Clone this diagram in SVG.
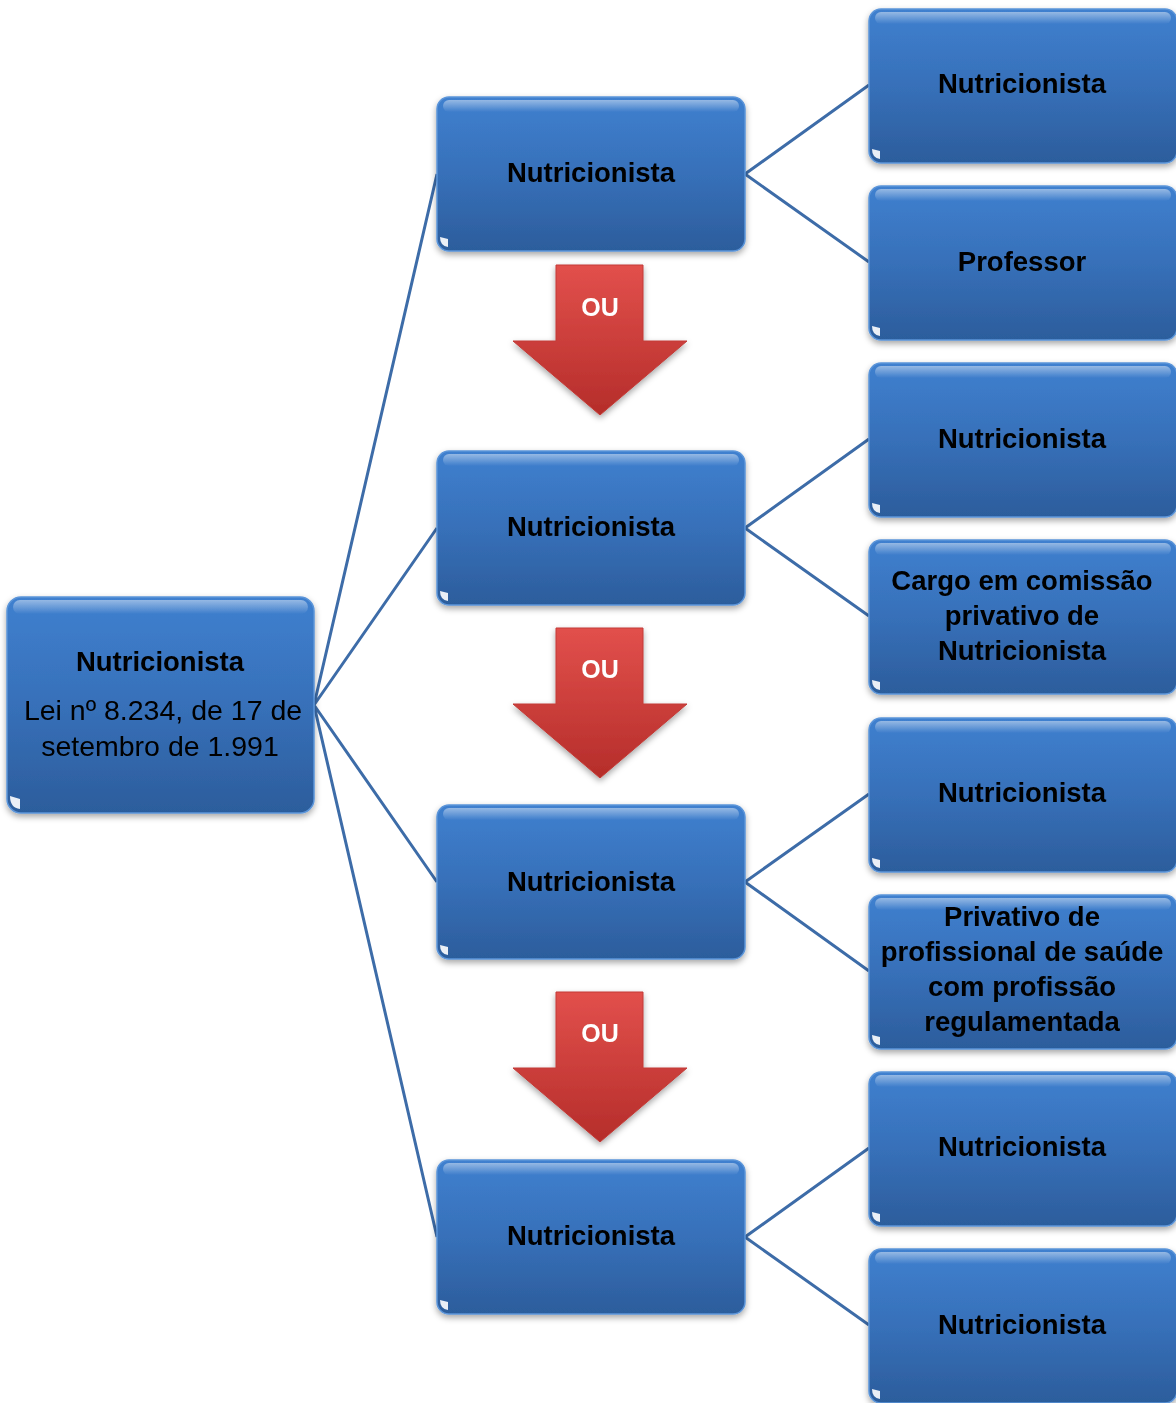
<svg xmlns="http://www.w3.org/2000/svg" width="1176" height="1403" viewBox="0 0 1176 1403">
<defs>
<linearGradient id="bg" x1="0" y1="0" x2="0" y2="1">
<stop offset="0" stop-color="#3f80cf"/>
<stop offset="0.5" stop-color="#3770b9"/>
<stop offset="1" stop-color="#2c5d9c"/>
</linearGradient>
<linearGradient id="hl" x1="0" y1="0" x2="0" y2="1">
<stop offset="0" stop-color="#ffffff" stop-opacity="0.45"/>
<stop offset="1" stop-color="#ffffff" stop-opacity="0"/>
</linearGradient>
<linearGradient id="rg" x1="0" y1="0" x2="0" y2="1">
<stop offset="0" stop-color="#e2504c"/>
<stop offset="1" stop-color="#b52d2a"/>
</linearGradient>
<filter id="sh" x="-10%" y="-10%" width="120%" height="130%">
<feDropShadow dx="0" dy="3" stdDeviation="3" flood-color="#000" flood-opacity="0.35"/>
</filter>
<g id="box">
<rect x="0" y="0" width="308" height="154" rx="12" fill="url(#bg)" stroke="#5b95d9" stroke-width="1.5"/>
<rect x="6" y="3" width="296" height="12" rx="6" fill="url(#hl)"/>
<path d="M3,140 q0,9 8,10 l0,-8 z" fill="#ffffff" opacity="0.9"/>
</g>
<g id="arrow">
<path d="M-44,0 L43,0 L43,76 L87,76 L0,150 L-87,76 L-44,76 Z" fill="url(#rg)" stroke="#c23a36" stroke-width="1"/>
</g>
</defs>
<style>
.t{font-family:"Liberation Sans",Arial,sans-serif;font-weight:bold;font-size:27.5px;fill:#000;text-anchor:middle}
.r{font-family:"Liberation Sans",Arial,sans-serif;font-size:28.5px;fill:#000;text-anchor:middle}
.ou{font-family:"Liberation Sans",Arial,sans-serif;font-weight:bold;font-size:25px;fill:#fff;text-anchor:middle}
.c{stroke:#3d6ca8;stroke-width:3;fill:none}
</style>
<g id="connectors">
<path class="c" d="M314,705 L437,174 M314,705 L437,528 M314,705 L437,882 M314,705 L437,1237"/>
<path class="c" d="M745,174 L869,85 M745,174 L869,262"/>
<path class="c" d="M745,528 L869,439 M745,528 L869,616"/>
<path class="c" d="M745,882 L869,794 M745,882 L869,971"/>
<path class="c" d="M745,1237 L869,1148 M745,1237 L869,1325"/>
</g>
<g id="arrow1" filter="url(#sh)"><use href="#arrow" x="600" y="265"/><text class="ou" x="600" y="316">OU</text></g>
<g id="arrow2" filter="url(#sh)"><use href="#arrow" x="600" y="628"/><text class="ou" x="600" y="678">OU</text></g>
<g id="arrow3" filter="url(#sh)"><use href="#arrow" x="600" y="992"/><text class="ou" x="600" y="1042">OU</text></g>
<g id="root" filter="url(#sh)">
<rect x="7" y="597" width="307" height="216" rx="14" fill="url(#bg)" stroke="#5b95d9" stroke-width="1.5"/>
<rect x="13" y="600" width="295" height="14" rx="7" fill="url(#hl)"/>
<path d="M10,796 q0,12 10,13 l0,-10 z" fill="#fff" opacity="0.9"/>
<text class="t" x="160" y="671">Nutricionista</text>
<text class="r" x="163" y="720">Lei nº 8.234, de 17 de</text>
<text class="r" x="160" y="756">setembro de 1.991</text>
</g>
<g id="m1" filter="url(#sh)"><use href="#box" x="437" y="97"/><text class="t" x="591" y="182">Nutricionista</text></g>
<g id="m2" filter="url(#sh)"><use href="#box" x="437" y="451"/><text class="t" x="591" y="536">Nutricionista</text></g>
<g id="m3" filter="url(#sh)"><use href="#box" x="437" y="805"/><text class="t" x="591" y="891">Nutricionista</text></g>
<g id="m4" filter="url(#sh)"><use href="#box" x="437" y="1160"/><text class="t" x="591" y="1245">Nutricionista</text></g>
<g id="r1" filter="url(#sh)"><use href="#box" x="869" y="9"/><text class="t" x="1022" y="93">Nutricionista</text></g>
<g id="r2" filter="url(#sh)"><use href="#box" x="869" y="186"/><text class="t" x="1022" y="271">Professor</text></g>
<g id="r3" filter="url(#sh)"><use href="#box" x="869" y="363"/><text class="t" x="1022" y="448">Nutricionista</text></g>
<g id="r4" filter="url(#sh)"><use href="#box" x="869" y="540"/>
<text class="t" x="1022" y="590">Cargo em comissão</text>
<text class="t" x="1022" y="625">privativo de</text>
<text class="t" x="1022" y="660">Nutricionista</text></g>
<g id="r5" filter="url(#sh)"><use href="#box" x="869" y="718"/><text class="t" x="1022" y="802">Nutricionista</text></g>
<g id="r6" filter="url(#sh)"><use href="#box" x="869" y="895"/>
<text class="t" x="1022" y="926">Privativo de</text>
<text class="t" x="1022" y="961">profissional de saúde</text>
<text class="t" x="1022" y="996">com profissão</text>
<text class="t" x="1022" y="1031">regulamentada</text></g>
<g id="r7" filter="url(#sh)"><use href="#box" x="869" y="1072"/><text class="t" x="1022" y="1156">Nutricionista</text></g>
<g id="r8" filter="url(#sh)"><use href="#box" x="869" y="1249"/><text class="t" x="1022" y="1334">Nutricionista</text></g>
</svg>
